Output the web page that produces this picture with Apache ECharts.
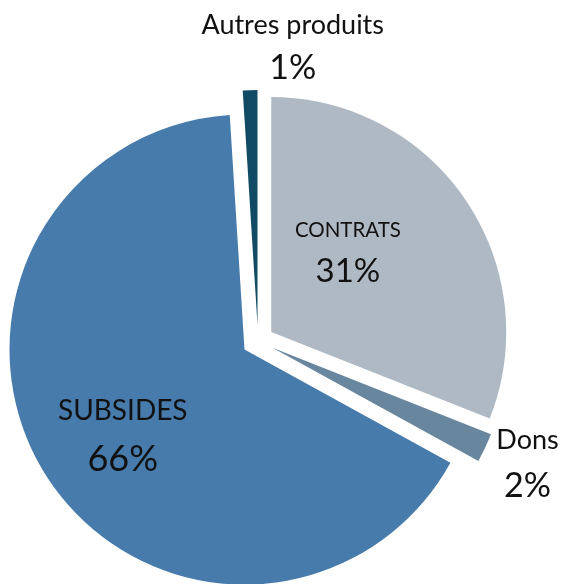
<!DOCTYPE html>
<html>
<head>
<meta charset="utf-8">
<script src="https://cdn.jsdelivr.net/npm/echarts@6/dist/echarts.min.js"></script>
<style>
  html, body { margin: 0; padding: 0; background: #fff; }
  #chart { width: 561px; height: 584px; }
</style>
</head>
<body>
<div id="chart"></div>
<script>
  // parts of income, clockwise from 12 o'clock
  const categories = ['CONTRATS', 'Dons', 'SUBSIDES', 'Autres produits'];
  const shares = [31, 2, 66, 1];
  const colors = ['#afb9c4', '#68869d', '#467bab', '#114a64'];

  // label tuning, per slice
  const labelShift = [[-23, -13], [146, 64], [-20, 21], [39, -158]];
  const nameSize = [20.5, 27, 28, 27];
  const pctSize = [33, 34, 36, 34];
  const gap = [41, 45, 48, 43];

  const chart = echarts.init(document.getElementById('chart'));

  const option = {
    animation: false,
    series: [
      {
        type: 'pie',
        center: [258, 341],
        radius: [0, 235],
        startAngle: 90,
        selectedMode: 'multiple',
        selectedOffset: 16,
        label: {
          show: true,
          position: 'inside',
          formatter: '{n|{b}}\n{p|{c}%}',
        },
        labelLine: { show: false },
        labelLayout: (params) => ({
          dx: labelShift[params.dataIndex][0],
          dy: labelShift[params.dataIndex][1],
        }),
        emphasis: { disabled: true },
        data: categories.map((name, i) => ({
          name,
          value: shares[i],
          selected: true,
          itemStyle: { color: colors[i] },
          label: {
            rich: {
              n: {
                fontFamily: 'Lato',
                fontSize: nameSize[i],
                color: '#111',
                lineHeight: gap[i],
              },
              p: {
                fontFamily: 'Lato',
                fontSize: pctSize[i],
                color: '#111',
                lineHeight: gap[i],
              },
            },
          },
        })),
      },
    ],
  };

  chart.setOption(option);
</script>
</body>
</html>
